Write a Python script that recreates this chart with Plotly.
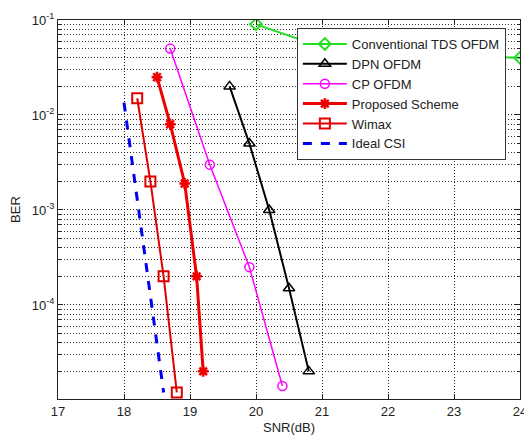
import plotly.graph_objects as go

snr_tds = [20.0, 21.0, 22.0, 23.0, 24.0]
ber_tds = [9.0e-2, 5.2e-2, 4.6e-2, 4.2e-2, 4.0e-2]

snr_dpn = [19.6, 19.9, 20.2, 20.5, 20.8]
ber_dpn = [2.0e-2, 5.0e-3, 1.0e-3, 1.5e-4, 2.0e-5]

snr_cp = [18.7, 19.3, 19.9, 20.4]
ber_cp = [5.0e-2, 3.0e-3, 2.5e-4, 1.4e-5]

snr_prop = [18.5, 18.7, 18.92, 19.1, 19.2]
ber_prop = [2.5e-2, 8.0e-3, 1.9e-3, 2.0e-4, 2.0e-5]

snr_wimax = [18.2, 18.4, 18.6, 18.8]
ber_wimax = [1.5e-2, 2.0e-3, 2.0e-4, 1.2e-5]

snr_ideal = [18.0, 18.2, 18.4, 18.6]
ber_ideal = [1.35e-2, 1.35e-3, 1.3e-4, 1.2e-5]

x_ticks = [17, 18, 19, 20, 21, 22, 23, 24]
y_exps = [-4, -3, -2, -1]
y_ticks = [10.0 ** e for e in y_exps]
y_ticktext = ["10<sup>%d</sup>" % e for e in y_exps]

fig = go.Figure()
fig.add_trace(go.Scatter(x=snr_tds, y=ber_tds, name="Conventional TDS OFDM",
                         mode="lines+markers",
                         line=dict(color="#22dd22", width=2),
                         marker=dict(symbol="diamond-open", size=9, color="#22dd22",
                                     line=dict(width=2, color="#22dd22"))))
fig.add_trace(go.Scatter(x=snr_dpn, y=ber_dpn, name="DPN OFDM",
                         mode="lines+markers",
                         line=dict(color="black", width=2),
                         marker=dict(symbol="triangle-up-open", size=10, color="black",
                                     line=dict(width=1.5, color="black"))))
fig.add_trace(go.Scatter(x=snr_cp, y=ber_cp, name="CP OFDM",
                         mode="lines+markers",
                         line=dict(color="#ff00ff", width=1.5),
                         marker=dict(symbol="circle-open", size=9, color="#ff00ff",
                                     line=dict(width=1.5, color="#ff00ff"))))
fig.add_trace(go.Scatter(x=snr_prop, y=ber_prop, name="Proposed Scheme",
                         mode="lines+markers",
                         line=dict(color="#ee0000", width=3),
                         marker=dict(symbol="asterisk-open", size=9, color="#ee0000",
                                     line=dict(width=2.5, color="#ee0000"))))
fig.add_trace(go.Scatter(x=snr_wimax, y=ber_wimax, name="Wimax",
                         mode="lines+markers",
                         line=dict(color="#e00000", width=2),
                         marker=dict(symbol="square-open", size=10, color="#e00000",
                                     line=dict(width=2, color="#e00000"))))
fig.add_trace(go.Scatter(x=snr_ideal, y=ber_ideal, name="Ideal CSI",
                         mode="lines",
                         line=dict(color="#0000ee", width=3, dash="dash")))

axis_font = dict(family="Liberation Sans, Arial, sans-serif", size=13, color="#222")
grid_dash = "1px,2px"

fig.update_layout(
    width=524, height=438,
    margin=dict(l=58, r=4, t=20, b=39),
    paper_bgcolor="white", plot_bgcolor="white",
    font=axis_font,
    showlegend=True,
    legend=dict(x=0.517, y=0.979, xanchor="left", yanchor="top",
                bgcolor="white", bordercolor="#333", borderwidth=1,
                font=dict(family="Liberation Sans, Arial, sans-serif", size=13, color="#222"),
                itemwidth=44, tracegroupgap=0),
    xaxis=dict(range=[17, 24], tickvals=x_ticks, ticktext=[str(v) for v in x_ticks],
               ticks="inside", ticklen=5, tickcolor="#222",
               showline=True, linecolor="#222", linewidth=1, mirror="allticks",
               showgrid=True, gridcolor="#222", griddash=grid_dash, gridwidth=1,
               zeroline=False, automargin=False, ticklabeloverflow="allow",
               title=dict(text="SNR(dB)", standoff=5, font=axis_font)),
    yaxis=dict(type="log", range=[-4.99, -1], tickvals=y_ticks, ticktext=y_ticktext,
               ticks="inside", ticklen=5, tickcolor="#222",
               showline=True, linecolor="#222", linewidth=1, mirror="allticks",
               showgrid=True, gridcolor="#222", griddash=grid_dash, gridwidth=1,
               minor=dict(dtick="D1", ticks="inside", ticklen=3, tickcolor="#222",
                          showgrid=True, gridcolor="#333", griddash=grid_dash, gridwidth=1),
               zeroline=False, automargin=False, ticklabeloverflow="allow",
               title=dict(text="BER", standoff=8, font=axis_font)),
)

fig.write_html("out.html", config={"displayModeBar": False},
               post_script="document.body.style.margin='0';document.body.style.padding='0';")
